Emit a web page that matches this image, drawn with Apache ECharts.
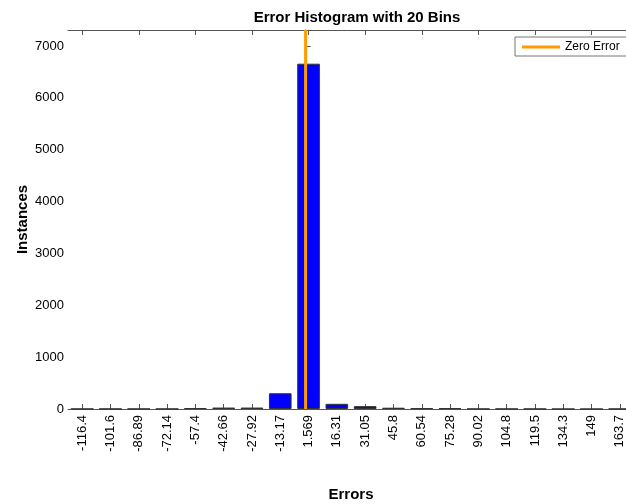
<!DOCTYPE html>
<html>
<head>
<meta charset="utf-8">
<script src="https://cdn.jsdelivr.net/npm/echarts@6/dist/echarts.min.js"></script>
<style>
html,body{margin:0;padding:0;background:#fff;}
#chart{width:626px;height:504px;}
</style>
</head>
<body>
<div id="chart"></div>
<script>
var binCenters = ['-116.4','-101.6','-86.89','-72.14','-57.4','-42.66','-27.92','-13.17','1.569','16.31','31.05','45.8','60.54','75.28','90.02','104.8','119.5','134.3','149','163.7'];
var instances = [3, 3, 3, 3, 18, 28, 28, 304, 6660, 100, 55, 25, 14, 14, 3, 3, 2, 0, 0, 2];
var zeroError = 0;
var yMax = 7310;
var yInterval = 1000;

var firstC = parseFloat(binCenters[0]);
var lastC = parseFloat(binCenters[binCenters.length - 1]);
var binW = (lastC - firstC) / (binCenters.length - 1);

var font = 'Liberation Sans, Arial, Helvetica, sans-serif';
var chart = echarts.init(document.getElementById('chart'));
chart.setOption({
  animation: false,
  backgroundColor: '#fff',
  textStyle: {fontFamily: font, color: '#000'},
  title: {
    text: 'Error Histogram with 20 Bins',
    left: 352, top: 5, textAlign: 'center',
    textStyle: {fontFamily: font, fontSize: 15, fontWeight: 'bold', color: '#000'}
  },
  legend: {
    data: [{name: 'Zero Error', icon: 'rect'}],
    left: 515, top: 37,
    itemWidth: 38, itemHeight: 3, itemGap: 5,
    padding: [4, 8, 3, 7],
    borderColor: '#777', borderWidth: 1, backgroundColor: '#fff',
    textStyle: {fontFamily: font, fontSize: 12, color: '#000'}
  },
  grid: {left: 68, top: 30, width: 566, height: 379, containLabel: false, outerBoundsMode: 'none'},
  xAxis: [
    {
      type: 'category', data: binCenters, position: 'bottom',
      name: 'Errors', nameLocation: 'middle', nameGap: 78, nameMoveOverlap: false,
      nameTextStyle: {fontFamily: font, fontSize: 15, fontWeight: 'bold', color: '#000'},
      axisLine: {lineStyle: {color: '#555', width: 1}},
      axisTick: {show: true, inside: true, length: 5, alignWithLabel: true, lineStyle: {color: '#555'}},
      axisLabel: {rotate: 90, fontSize: 13, color: '#000', margin: 6, interval: 0, fontFamily: font},
      splitLine: {show: false}
    },
    {
      type: 'category', data: binCenters, position: 'top',
      axisLine: {lineStyle: {color: '#555', width: 1}},
      axisTick: {show: true, inside: true, length: 5, alignWithLabel: true, lineStyle: {color: '#555'}},
      axisLabel: {show: false},
      splitLine: {show: false}
    },
    {
      type: 'value', show: false,
      min: firstC - binW / 2, max: lastC + binW / 2,
      splitLine: {show: false}
    }
  ],
  yAxis: {
    type: 'value', min: 0, max: yMax, interval: yInterval,
    name: 'Instances', nameLocation: 'middle', nameGap: 38, nameRotate: 90, nameMoveOverlap: false,
    nameTextStyle: {fontFamily: font, fontSize: 15, fontWeight: 'bold', color: '#000'},
    axisLine: {show: true, lineStyle: {color: '#555', width: 1}},
    axisTick: {show: true, inside: true, length: 5, lineStyle: {color: '#555'}},
    axisLabel: {fontSize: 13, color: '#000', margin: 4, fontFamily: font,
      showMaxLabel: false, formatter: function (v) { return String(v); }},
    splitLine: {show: false}
  },
  series: [
    {
      type: 'bar', name: 'Instances', data: instances, xAxisIndex: 0,
      barCategoryGap: '20%',
      itemStyle: {color: '#0000ff', borderColor: '#333', borderWidth: 1}
    },
    {
      type: 'line', name: 'Zero Error', xAxisIndex: 2,
      data: [[zeroError, 0], [zeroError, yMax]],
      symbol: 'none',
      lineStyle: {color: '#ff9a00', width: 3},
      itemStyle: {color: '#ff9a00'},
      z: 5
    }
  ]
});
</script>
</body>
</html>
